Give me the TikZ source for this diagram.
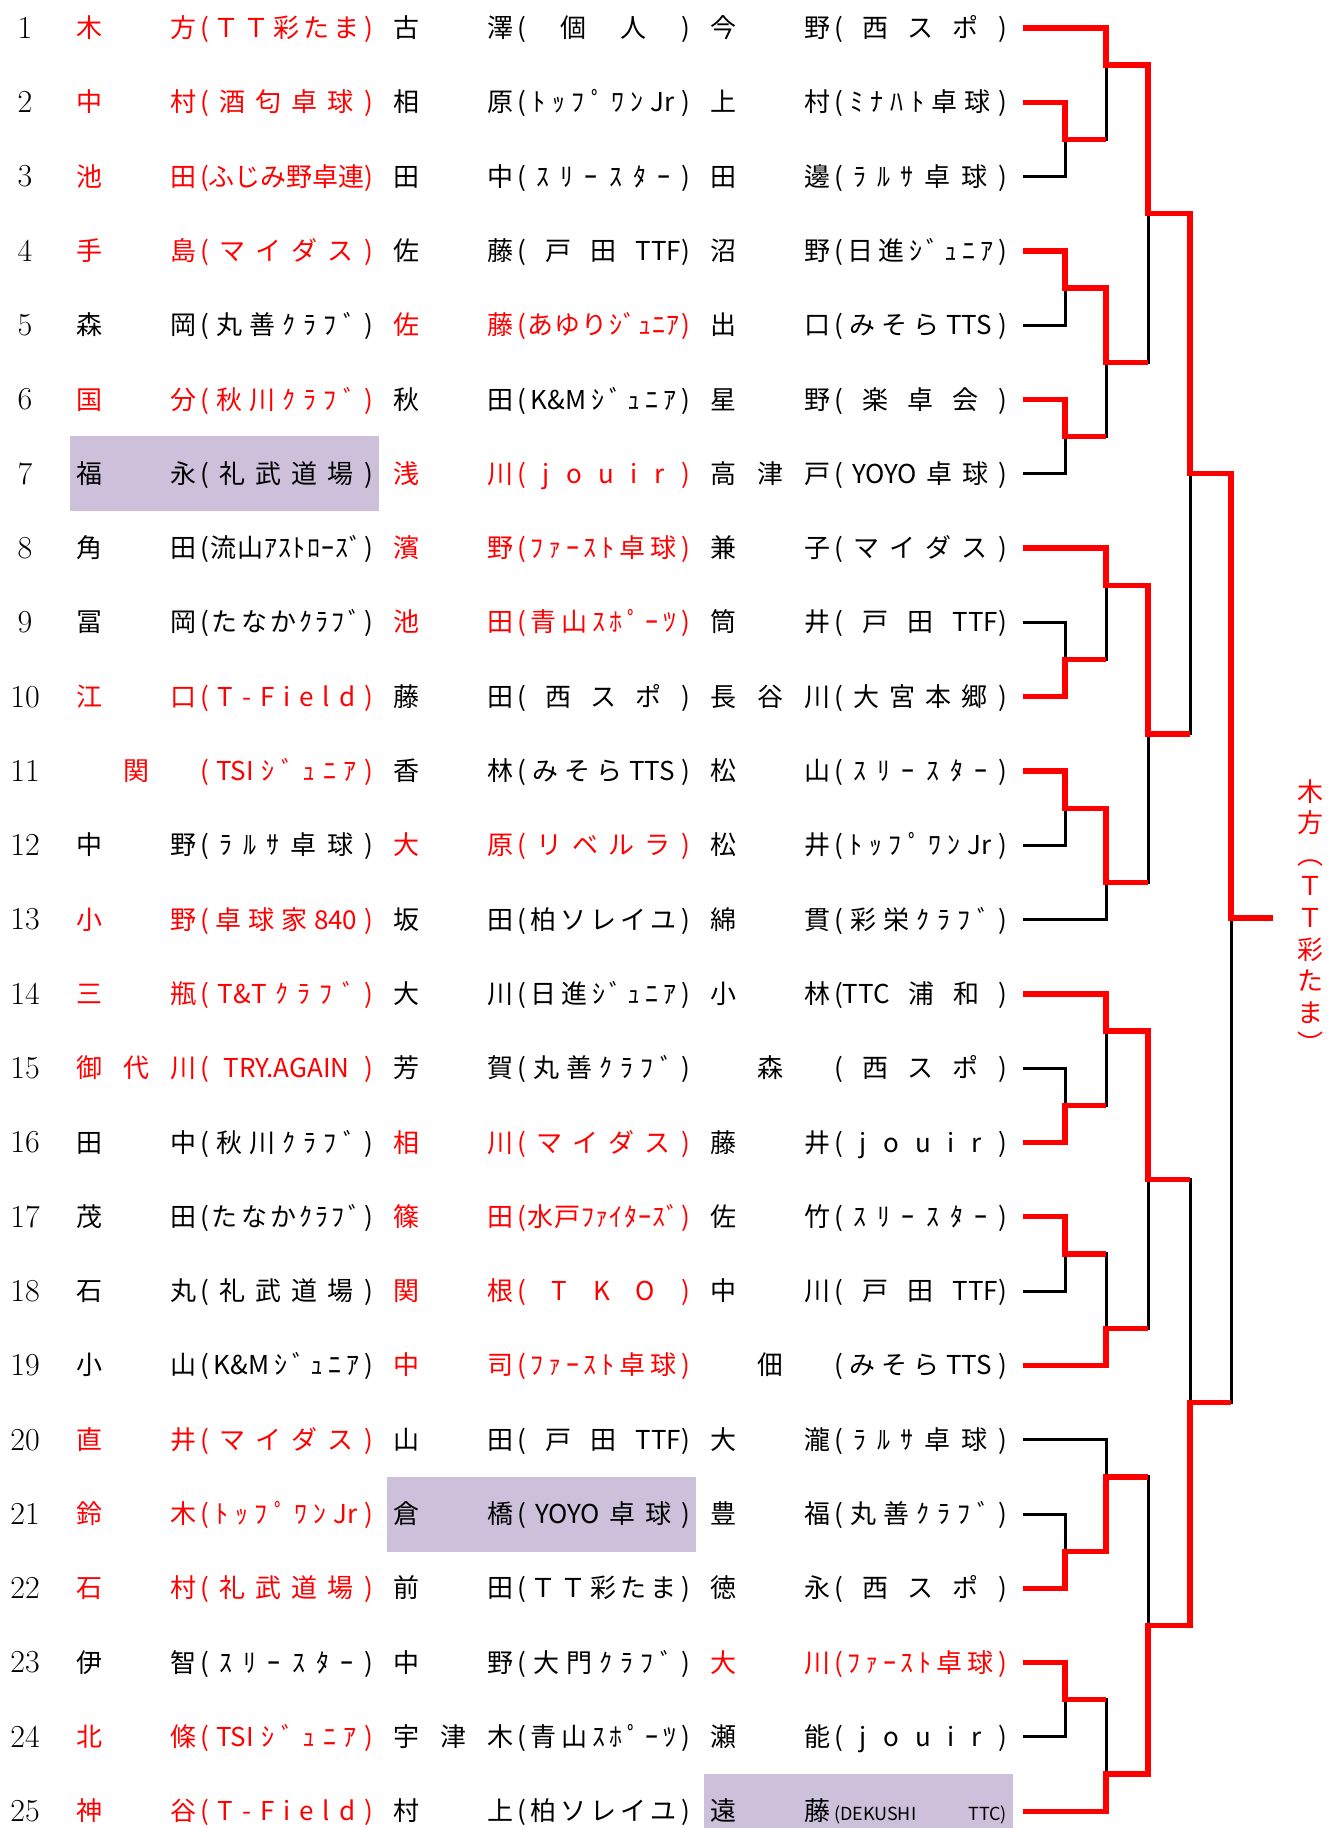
\documentclass[tikz,border=0pt]{standalone}
\usepackage{fontspec}
\newfontfamily\jp{Noto Sans CJK JP}
\definecolor{hl}{RGB}{204,192,218}
\definecolor{win}{RGB}{255,0,0}
\ExplSyntaxOn
\NewDocumentCommand\spreadbox{mm}{\makebox[#1][s]{\tl_map_inline:nn{#2}{##1\hfil}\unskip}}
\ExplSyntaxOff
\newcommand\RY[1]{28+(#1-1)*74.3}
\tikzset{
  nm/.style={font=\jp\fontsize{26}{26}\selectfont, inner sep=0pt, anchor=base},
  num/.style={font=\fontsize{32}{32}\selectfont, inner sep=0pt, anchor=base},
  blk/.style={line width=3pt, black},
  redp/.style={line width=5.3pt, win, line join=miter},
  hlbox/.style={fill=hl}
}
\newcommand\entTwo[6]{%
  \node[nm,text=#6] (p#1x#2a) at ({317*#2+89},{\RY{#1}+9.5}) {#3};
  \node[nm,text=#6] (p#1x#2b) at ({317*#2+183},{\RY{#1}+9.5}) {#4};
  \node[nm,text=#6] (p#1x#2c) at ({317*#2+286.5},{\RY{#1}+9.5}) {\spreadbox{173pt}{#5}};
}
\newcommand\entThree[7]{%
  \node[nm,text=#7] (p#1x#2a) at ({317*#2+89},{\RY{#1}+9.5}) {#3};
  \node[nm,text=#7] (p#1x#2m) at ({317*#2+136},{\RY{#1}+9.5}) {#4};
  \node[nm,text=#7] (p#1x#2b) at ({317*#2+183},{\RY{#1}+9.5}) {#5};
  \node[nm,text=#7] (p#1x#2c) at ({317*#2+286.5},{\RY{#1}+9.5}) {\spreadbox{173pt}{#6}};
}
\newcommand\entOne[5]{%
  \node[nm,text=#5] (p#1x#2a) at ({317*#2+136},{\RY{#1}+9.5}) {#3};
  \node[nm,text=#5] (p#1x#2c) at ({317*#2+286.5},{\RY{#1}+9.5}) {\spreadbox{173pt}{#4}};
}
\newcommand\hlcell[2]{\fill[hlbox] ({317*#2+70},{\RY{#1}-37.5}) rectangle ({317*#2+379},{\RY{#1}+37.5});}
\begin{document}
\begin{tikzpicture}[x=1pt,y=-1pt]
\useasboundingbox (0,0) rectangle (1328,1828);
% highlighted cells
\hlcell{7}{0}
\hlcell{21}{1}
\hlcell{25}{2}
% row numbers and row end points
\foreach \i in {1,...,25}{
  \coordinate (r\i) at (1023,{\RY{\i}});
  \node[num] (n\i) at (25,{\RY{\i}+10.3}) {\i};
}
% entries
\entTwo{1}{0}{木}{方}{(ＴＴ彩たま)}{win}
\entTwo{1}{1}{古}{澤}{(個人)}{black}
\entTwo{1}{2}{今}{野}{(西スポ)}{black}
\entTwo{2}{0}{中}{村}{(酒匂卓球)}{win}
\entTwo{2}{1}{相}{原}{(ﾄｯﾌﾟﾜﾝ{Jr})}{black}
\entTwo{2}{2}{上}{村}{(ﾐﾅﾊﾄ卓球)}{black}
\entTwo{3}{0}{池}{田}{(ふじみ野卓連)}{win}
\entTwo{3}{1}{田}{中}{(ｽﾘｰｽﾀｰ)}{black}
\entTwo{3}{2}{田}{邊}{(ﾗﾙｻ卓球)}{black}
\entTwo{4}{0}{手}{島}{(マイダス)}{win}
\entTwo{4}{1}{佐}{藤}{(戸田{TTF)}}{black}
\entTwo{4}{2}{沼}{野}{(日進ｼﾞｭﾆｱ)}{black}
\entTwo{5}{0}{森}{岡}{(丸善ｸﾗﾌﾞ)}{black}
\entTwo{5}{1}{佐}{藤}{(あゆりｼﾞｭﾆｱ)}{win}
\entTwo{5}{2}{出}{口}{(みそら{TTS})}{black}
\entTwo{6}{0}{国}{分}{(秋川ｸﾗﾌﾞ)}{win}
\entTwo{6}{1}{秋}{田}{({K\&M}ｼﾞｭﾆｱ)}{black}
\entTwo{6}{2}{星}{野}{(楽卓会)}{black}
\entTwo{7}{0}{福}{永}{(礼武道場)}{black}
\entTwo{7}{1}{浅}{川}{(jouir)}{win}
\entThree{7}{2}{高}{津}{戸}{({YOYO}卓球)}{black}
\entTwo{8}{0}{角}{田}{(流山ｱｽﾄﾛｰｽﾞ)}{black}
\entTwo{8}{1}{濱}{野}{(ﾌｧｰｽﾄ卓球)}{win}
\entTwo{8}{2}{兼}{子}{(マイダス)}{black}
\entTwo{9}{0}{冨}{岡}{(たなかｸﾗﾌﾞ)}{black}
\entTwo{9}{1}{池}{田}{(青山ｽﾎﾟｰﾂ)}{win}
\entTwo{9}{2}{筒}{井}{(戸田{TTF)}}{black}
\entTwo{10}{0}{江}{口}{(T-Field)}{win}
\entTwo{10}{1}{藤}{田}{(西スポ)}{black}
\entThree{10}{2}{長}{谷}{川}{(大宮本郷)}{black}
\entOne{11}{0}{関}{({TSI}ｼﾞｭﾆｱ)}{win}
\entTwo{11}{1}{香}{林}{(みそら{TTS})}{black}
\entTwo{11}{2}{松}{山}{(ｽﾘｰｽﾀｰ)}{black}
\entTwo{12}{0}{中}{野}{(ﾗﾙｻ卓球)}{black}
\entTwo{12}{1}{大}{原}{(リベルラ)}{win}
\entTwo{12}{2}{松}{井}{(ﾄｯﾌﾟﾜﾝ{Jr})}{black}
\entTwo{13}{0}{小}{野}{(卓球家{840})}{win}
\entTwo{13}{1}{坂}{田}{(柏ソレイユ)}{black}
\entTwo{13}{2}{綿}{貫}{(彩栄ｸﾗﾌﾞ)}{black}
\entTwo{14}{0}{三}{瓶}{({T\&T}ｸﾗﾌﾞ)}{win}
\entTwo{14}{1}{大}{川}{(日進ｼﾞｭﾆｱ)}{black}
\entTwo{14}{2}{小}{林}{{(TTC}浦和)}{black}
\entThree{15}{0}{御}{代}{川}{({TRY.AGAIN})}{win}
\entTwo{15}{1}{芳}{賀}{(丸善ｸﾗﾌﾞ)}{black}
\entOne{15}{2}{森}{(西スポ)}{black}
\entTwo{16}{0}{田}{中}{(秋川ｸﾗﾌﾞ)}{black}
\entTwo{16}{1}{相}{川}{(マイダス)}{win}
\entTwo{16}{2}{藤}{井}{(jouir)}{black}
\entTwo{17}{0}{茂}{田}{(たなかｸﾗﾌﾞ)}{black}
\entTwo{17}{1}{篠}{田}{(水戸ﾌｧｲﾀｰｽﾞ)}{win}
\entTwo{17}{2}{佐}{竹}{(ｽﾘｰｽﾀｰ)}{black}
\entTwo{18}{0}{石}{丸}{(礼武道場)}{black}
\entTwo{18}{1}{関}{根}{(TKO)}{win}
\entTwo{18}{2}{中}{川}{(戸田{TTF)}}{black}
\entTwo{19}{0}{小}{山}{({K\&M}ｼﾞｭﾆｱ)}{black}
\entTwo{19}{1}{中}{司}{(ﾌｧｰｽﾄ卓球)}{win}
\entOne{19}{2}{佃}{(みそら{TTS})}{black}
\entTwo{20}{0}{直}{井}{(マイダス)}{win}
\entTwo{20}{1}{山}{田}{(戸田{TTF)}}{black}
\entTwo{20}{2}{大}{瀧}{(ﾗﾙｻ卓球)}{black}
\entTwo{21}{0}{鈴}{木}{(ﾄｯﾌﾟﾜﾝ{Jr})}{win}
\entTwo{21}{1}{倉}{橋}{({YOYO}卓球)}{black}
\entTwo{21}{2}{豊}{福}{(丸善ｸﾗﾌﾞ)}{black}
\entTwo{22}{0}{石}{村}{(礼武道場)}{win}
\entTwo{22}{1}{前}{田}{(ＴＴ彩たま)}{black}
\entTwo{22}{2}{徳}{永}{(西スポ)}{black}
\entTwo{23}{0}{伊}{智}{(ｽﾘｰｽﾀｰ)}{black}
\entTwo{23}{1}{中}{野}{(大門ｸﾗﾌﾞ)}{black}
\entTwo{23}{2}{大}{川}{(ﾌｧｰｽﾄ卓球)}{win}
\entTwo{24}{0}{北}{條}{({TSI}ｼﾞｭﾆｱ)}{win}
\entThree{24}{1}{宇}{津}{木}{(青山ｽﾎﾟｰﾂ)}{black}
\entTwo{24}{2}{瀬}{能}{(jouir)}{black}
\entTwo{25}{0}{神}{谷}{(T-Field)}{win}
\entTwo{25}{1}{村}{上}{(柏ソレイユ)}{black}
\entTwo{25}{2}{遠}{藤}{{{\fontsize{18}{18}\selectfont(DEKUSHI}}{{\fontsize{18}{18}\selectfont TTC)}}}{black}
% match points
\coordinate (a1) at (1065,{\RY{2.5}});
\coordinate (a2) at (1065,{\RY{4.5}});
\coordinate (a3) at (1065,{\RY{6.5}});
\coordinate (a4) at (1065,{\RY{9.5}});
\coordinate (a5) at (1065,{\RY{11.5}});
\coordinate (a6) at (1065,{\RY{15.5}});
\coordinate (a7) at (1065,{\RY{17.5}});
\coordinate (a8) at (1065,{\RY{21.5}});
\coordinate (a9) at (1065,{\RY{23.5}});
\coordinate (b1) at (1106,{\RY{1.5}});
\coordinate (b2) at (1106,{\RY{5.5}});
\coordinate (b3) at (1106,{\RY{8.5}});
\coordinate (b4) at (1106,{\RY{12.5}});
\coordinate (b5) at (1106,{\RY{14.5}});
\coordinate (b6) at (1106,{\RY{18.5}});
\coordinate (b7) at (1106,{\RY{20.5}});
\coordinate (b8) at (1106,{\RY{24.5}});
\coordinate (c1) at (1148,{\RY{3.5}});
\coordinate (c2) at (1148,{\RY{10.5}});
\coordinate (c3) at (1148,{\RY{16.5}});
\coordinate (c4) at (1148,{\RY{22.5}});
\coordinate (d1) at (1190,{\RY{7}});
\coordinate (d2) at (1190,{\RY{19.5}});
\coordinate (f) at (1231,918);
\coordinate (champ) at (1273,918);
% black skeleton
\foreach \s/\t in {r2/a1,r3/a1,r4/a2,r5/a2,r6/a3,r7/a3,r9/a4,r10/a4,r11/a5,r12/a5,r15/a6,r16/a6,r17/a7,r18/a7,r21/a8,r22/a8,r23/a9,r24/a9,
  r1/b1,a1/b1,a2/b2,a3/b2,r8/b3,a4/b3,a5/b4,r13/b4,r14/b5,a6/b5,a7/b6,r19/b6,r20/b7,a8/b7,a9/b8,r25/b8,
  b1/c1,b2/c1,b3/c2,b4/c2,b5/c3,b6/c3,b7/c4,b8/c4,c1/d1,c2/d1,c3/d2,c4/d2,d1/f,d2/f}
  \draw[blk] (\s) -| (\t);
% winners' paths
\draw[redp] (r1) -| (b1) -| (c1) -| (d1) -| (f) -- (champ);
\draw[redp] (r2) -| (a1) -- (a1 -| b1);
\draw[redp] (r4) -| (a2) -| (b2) -- (b2 -| c1);
\draw[redp] (r6) -| (a3) -- (a3 -| b2);
\draw[redp] (r8) -| (b3) -| (c2) -- (c2 -| d1);
\draw[redp] (r10) -| (a4) -- (a4 -| b3);
\draw[redp] (r11) -| (a5) -| (b4) -- (b4 -| c2);
\draw[redp] (r14) -| (b5) -| (c3) -- (c3 -| d2);
\draw[redp] (r16) -| (a6) -- (a6 -| b5);
\draw[redp] (r17) -| (a7) -- (a7 -| b6);
\draw[redp] (r19) -| (b6) -- (b6 -| c3);
\draw[redp] (r22) -| (a8) -| (b7) -- (b7 -| c4);
\draw[redp] (r23) -| (a9) -- (a9 -| b8);
\draw[redp] (r25) -| (b8) -| (c4) -| (d2) -- (d2 -| f);
% champion
\node[font=\jp\fontsize{26}{31.6}\selectfont, text=win, align=center, inner sep=0pt] (champname) at (1310,916.5)
  {木\\方\\︵\\Ｔ\\Ｔ\\彩\\た\\ま\\︶};
\end{tikzpicture}
\end{document}
